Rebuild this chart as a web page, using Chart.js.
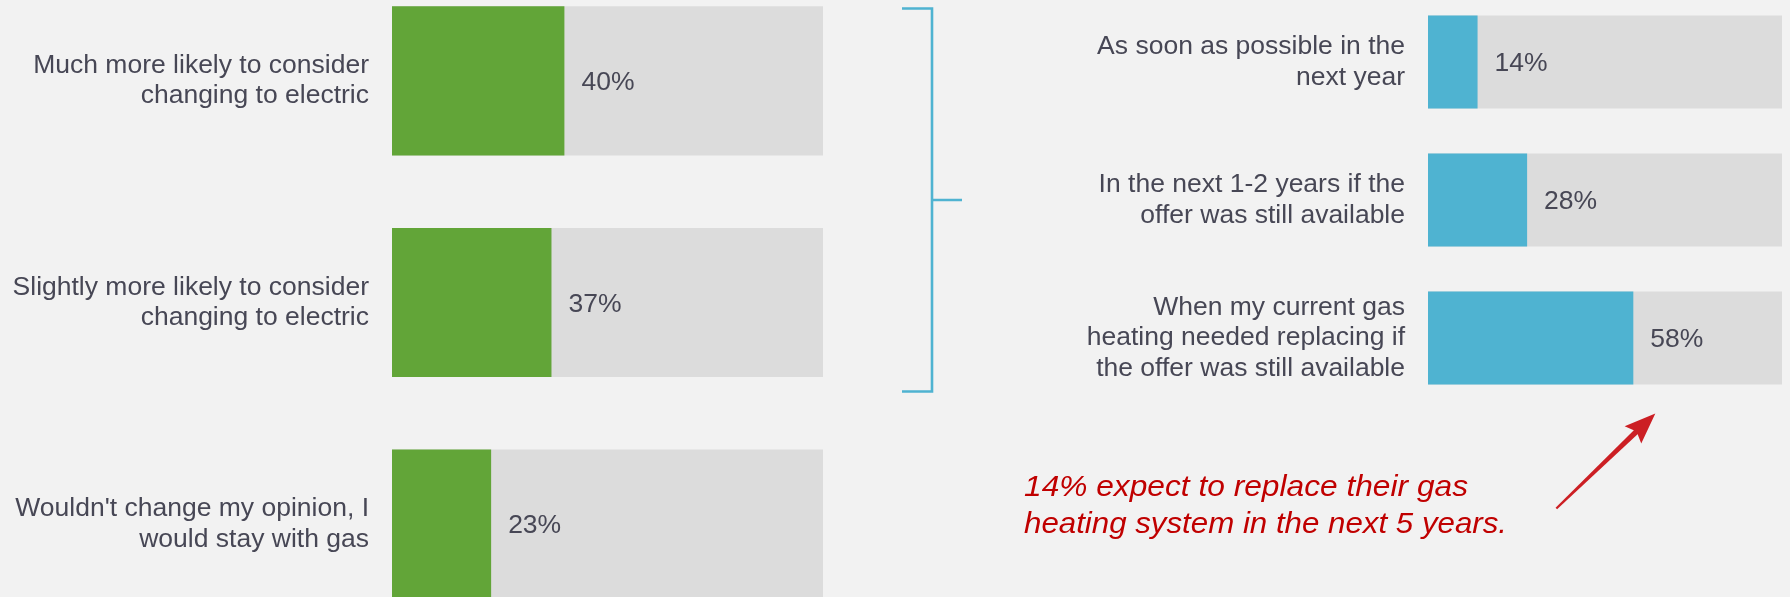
<!DOCTYPE html>
<html>
<head>
<meta charset="utf-8">
<script src="https://cdn.jsdelivr.net/npm/chart.js@4/dist/chart.umd.min.js"></script>
<style>
  html, body { margin: 0; padding: 0; background: #f2f2f2; width: 1790px; height: 597px; overflow: hidden; }
  canvas { position: absolute; }
  #opinion { left: 0px; top: -30px; }
  #timing { left: 880px; top: -7px; }
</style>
</head>
<body>
<canvas id="opinion" width="823" height="665"></canvas>
<canvas id="timing" width="902" height="600"></canvas>
<script>
// Survey answers: effect of the offer on switching to electric heating
const opinionCategories = [
  ['Much more likely to consider', 'changing to electric'],
  ['Slightly more likely to consider', 'changing to electric'],
  ["Wouldn't change my opinion, I", 'would stay with gas']
];
const opinionValues = [40, 37, 23];
const opinionTrack = [100, 100, 100];

// When those more likely to consider would make the change
const timingCategories = [
  ['As soon as possible in the', 'next year'],
  ['In the next 1-2 years if the', 'offer was still available'],
  ['When my current gas', 'heating needed replacing if', 'the offer was still available']
];
const timingValues = [14, 28, 58];
const timingTrack = [100, 100, 100];

const noteLines = ['14% expect to replace their gas', 'heating system in the next 5 years.'];

const TEXT = '#474755';
const GREEN = '#62a538';
const BLUE = '#4fb3d1';
const TRACK = '#dcdcdc';
const NOTE_RED = '#c00000';
const FONT = '"Liberation Sans", Arial, sans-serif';
const FONT_SIZE = 26.5;

// Percentage label just past the end of each coloured bar
function valueLabels(values, gap) {
  return {
    id: 'valueLabels',
    afterDatasetsDraw(chart) {
      const ctx = chart.ctx;
      const meta = chart.getDatasetMeta(0);
      ctx.save();
      ctx.font = FONT_SIZE + 'px ' + FONT;
      ctx.fillStyle = TEXT;
      ctx.textAlign = 'left';
      ctx.textBaseline = 'middle';
      meta.data.forEach((bar, i) => {
        ctx.fillText(values[i] + '%', bar.x + gap, bar.y + 2);
      });
      ctx.restore();
    }
  };
}

function barChart(id, labels, values, track, color, axisWidth, bottomPad, extraPlugins) {
  return new Chart(document.getElementById(id), {
    type: 'bar',
    data: {
      labels: labels,
      datasets: [
        { data: values, backgroundColor: color, order: 1, grouped: false,
          categoryPercentage: 1, barPercentage: 0.673, borderWidth: 0 },
        { data: track, backgroundColor: TRACK, order: 2, grouped: false,
          categoryPercentage: 1, barPercentage: 0.673, borderWidth: 0 }
      ]
    },
    options: {
      indexAxis: 'y',
      responsive: false,
      animation: false,
      devicePixelRatio: 1,
      layout: { padding: { left: 0, right: 0, top: 0, bottom: bottomPad } },
      plugins: { legend: { display: false }, tooltip: { enabled: false } },
      scales: {
        x: { display: false, min: 0, max: 100 },
        y: {
          grid: { display: false, drawTicks: false },
          border: { display: false },
          ticks: { padding: 23, color: TEXT, font: { family: FONT, size: FONT_SIZE, lineHeight: 30.5 / FONT_SIZE } },
          afterFit(scale) {
            // fixed label column; category slots use the full height
            scale.width = axisWidth;
            scale.paddingTop = 0;
            scale.paddingBottom = 0;
          }
        }
      }
    },
    plugins: [valueLabels(values, 17)].concat(extraPlugins || [])
  });
}

// Bracket tying the timing breakdown to the "more likely" answers
const bracket = {
  id: 'bracket',
  afterDraw(chart) {
    const ctx = chart.ctx;
    const bars = chart.getDatasetMeta(0).data;
    const left = chart.chartArea.left;
    const top = bars[0].y - bars[0].height / 2 - 7;
    const bottom = bars[2].y + bars[2].height / 2 + 7;
    const mid = bars[1].y;
    const xv = left - 496;
    ctx.save();
    ctx.strokeStyle = BLUE;
    ctx.lineWidth = 2.6;
    ctx.lineCap = 'butt';
    ctx.beginPath();
    ctx.moveTo(xv - 30, top);
    ctx.lineTo(xv, top);
    ctx.lineTo(xv, bottom);
    ctx.lineTo(xv - 30, bottom);
    ctx.moveTo(xv, mid);
    ctx.lineTo(xv + 30, mid);
    ctx.stroke();
    ctx.restore();
  }
};

// Hand-written style note with an arrow pointing at the last bar
const note = {
  id: 'note',
  afterDraw(chart) {
    const ctx = chart.ctx;
    const area = chart.chartArea;
    const bar = chart.getDatasetMeta(0).data[2];
    ctx.save();

    // note text
    ctx.fillStyle = NOTE_RED;
    ctx.font = 'italic 29px ' + FONT;
    ctx.textBaseline = 'alphabetic';
    const widths = [444, 483];
    noteLines.forEach((line, i) => {
      const w = ctx.measureText(line).width;
      ctx.save();
      ctx.translate(area.left - 404, area.bottom + 89 + i * 37);
      ctx.scale(widths[i] / w, 1);
      ctx.fillText(line, 0, 0);
      ctx.restore();
    });

    // arrow
    const tip = { x: bar.x + 22, y: bar.y + bar.height / 2 + 29 };
    const tail = { x: tip.x - 99, y: tip.y + 95 };
    const dx = tip.x - tail.x, dy = tip.y - tail.y;
    const len = Math.hypot(dx, dy);
    const ux = dx / len, uy = dy / len;
    const nx = -uy, ny = ux;
    const headLen = 31, headHalf = 12;
    const base = { x: tip.x - ux * headLen, y: tip.y - uy * headLen };
    ctx.filter = 'blur(0.7px)';
    ctx.fillStyle = '#cc1f24';
    ctx.beginPath();
    ctx.moveTo(tail.x + nx * 1.1, tail.y + ny * 1.1);
    ctx.lineTo(base.x + nx * 2.8 + ux * 6, base.y + ny * 2.8 + uy * 6);
    ctx.lineTo(base.x - nx * 2.8 + ux * 6, base.y - ny * 2.8 + uy * 6);
    ctx.lineTo(tail.x - nx * 1.1, tail.y - ny * 1.1);
    ctx.closePath();
    ctx.fill();
    ctx.beginPath();
    ctx.moveTo(tip.x, tip.y);
    ctx.lineTo(base.x + nx * headHalf, base.y + ny * headHalf);
    ctx.lineTo(base.x + ux * 5, base.y + uy * 5);
    ctx.lineTo(base.x - nx * headHalf, base.y - ny * headHalf);
    ctx.closePath();
    ctx.fill();
    ctx.restore();
  }
};

barChart('opinion', opinionCategories, opinionValues, opinionTrack, GREEN, 392, 0);
barChart('timing', timingCategories, timingValues, timingTrack, BLUE, 548, 186, [bracket, note]);
</script>
</body>
</html>
